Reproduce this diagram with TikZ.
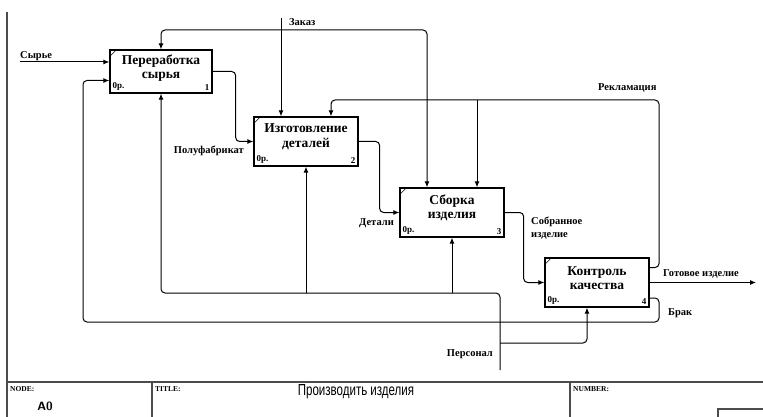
\documentclass[tikz,border=0pt]{standalone}
\usepackage{fontspec}
\setmainfont{Liberation Serif}
\newfontfamily\narrowsans[FakeStretch=0.72]{Liberation Sans}
\usetikzlibrary{arrows.meta,calc}
\begin{document}
\begin{tikzpicture}[x=1pt,y=-1pt,
  idefbox/.style={draw, line width=1.3pt, minimum width=104pt, minimum height=49pt, inner sep=0pt},
  boxtitle/.style={font=\fontsize{13.5}{14.5}\selectfont\bfseries, align=center, inner sep=0pt},
  boxcorner/.style={font=\fontsize{9}{10}\selectfont\bfseries, inner sep=0pt},
  arr/.style={draw, line width=1pt, rounded corners=4pt, -{Latex[length=6pt,width=5pt]}},
  conn/.style={draw, line width=1pt, rounded corners=4pt},
  lbl/.style={font=\fontsize{10.5}{11}\selectfont\bfseries, inner sep=0pt},
  frameline/.style={draw, line width=1.2pt, gray!60!black},
  tbsmall/.style={font=\fontsize{7.5}{8}\selectfont\bfseries, inner sep=0pt, anchor=north west}]
\useasboundingbox (0,0) rectangle (763,417);

% frame
\draw[frameline] (7,12) -- (7,417);
\draw[frameline] (7,382) -- (763,382);
\draw[frameline] (152,382) -- (152,417);
\draw[frameline] (570,382) -- (570,417);
\draw[frameline] (718,417) -- (718,409) -- (763,409);
\node[tbsmall] (tnode) at (10,386) {NODE:};
\node[tbsmall] (ttitle) at (155,386) {TITLE:};
\node[tbsmall] (tnum) at (573,386) {NUMBER:};
\node[font=\fontsize{12}{13}\selectfont\sffamily\bfseries, inner sep=0pt] (ta0) at (45,406) {A0};
\node[font=\narrowsans\fontsize{16}{17}\selectfont, inner sep=0pt] (ttext) at (356,392) {Производить изделия};

% boxes
\node[idefbox, minimum width=102pt, minimum height=43pt] (b1) at (161,71.5) {};
\node[idefbox] (b2) at (306,141.5) {};
\node[idefbox] (b3) at (452,212.5) {};
\node[idefbox] (b4) at (597,282.5) {};

\node[boxtitle] (t1) at ($(b1.center)+(0,-3.5)$) {Переработка\\сырья};
\node[boxtitle] (t2) at ($(b2.center)+(0,-4.5)$) {Изготовление\\деталей};
\node[boxtitle] (t3) at ($(b3.center)+(0,-4.5)$) {Сборка\\изделия};
\node[boxtitle] (t4) at ($(b4.center)+(0,-4.5)$) {Контроль\\качества};

\foreach \b/\n in {b1/1,b2/2,b3/3,b4/4}{
  \node[boxcorner, anchor=south west] (\b op) at ($(\b.south west)+(3,-3)$) {0р.};
  \node[boxcorner, anchor=south east] (\b num) at ($(\b.south east)+(-3,-3)$) {\n};
  \draw[line width=0.5pt] ($(\b.north west)+(1.5,6)$) -- ($(\b.north west)+(6,1.5)$);
}

% anchor points
\coordinate (c1a) at ($(b1.west)+(0,-9.5)$);
\coordinate (c1b) at ($(b1.west)+(0,9)$);
\coordinate (c2a) at ($(b2.north)+(-25,0)$);
\coordinate (c2b) at ($(b2.north)+(25,0)$);
\coordinate (c3a) at ($(b3.north)+(-25,0)$);
\coordinate (c3b) at ($(b3.north)+(25,0)$);
\coordinate (c4m) at ($(b4.south)+(-10,0)$);
\coordinate (f4) at ($(b4.east)+(0,-15)$);
\coordinate (br4) at ($(b4.east)+(0,15.5)$);

% Сырье
\coordinate (syr) at (20,62);
\draw[arr] (syr) -- (c1a);
\node[lbl, anchor=south west] (lsyr) at ($(syr)+(0,-1.5)$) {Сырье};

% Заказ (control)
\coordinate (zk) at (281,18);
\coordinate (zj) at (281,30);
\draw[arr] (zk) -- (c2a);
\draw[arr] (zj) -| (b1.north);
\draw[arr] (zj) -| (c3a);
\node[lbl, anchor=west] (lzk) at (289,22) {Заказ};

% outputs between boxes
\draw[arr] (b1.east) -- ++(23,0) |- (b2.west);
\draw[arr] (b2.east) -- ++(21,0) |- (b3.west);
\draw[arr] (b3.east) -- ++(19,0) |- (b4.west);
\node[lbl, anchor=east] (lpf) at (244,151) {Полуфабрикат};
\node[lbl, anchor=east] (ldet) at (394,223) {Детали};
\node[lbl, anchor=north west, align=left, font=\fontsize{10.5}{12.5}\selectfont\bfseries] (lsob) at (531,217) {Собранное\\изделие};

% Готовое изделие
\coordinate (gi) at (756,282.5);
\draw[arr] (b4.east) -- (gi);
\node[lbl, anchor=west] (lgi) at (663,274) {Готовое изделие};

% Рекламация feedback
\coordinate (fb) at (659,100);
\draw[arr] (f4) -| (fb) -| (c2b);
\draw[arr] (c3b |- fb) -- (c3b);
\node[lbl, anchor=west] (lrek) at (598,88) {Рекламация};

% Брак
\coordinate (bk1) at (659,322);
\coordinate (bk2) at (83,80.5);
\draw[arr] (br4) -| (bk1) -| (bk2) -- (c1b);
\node[lbl, anchor=west] (lbr) at (668,313) {Брак};

% Персонал (mechanism)
\coordinate (per) at (500,370);
\coordinate (m1) at (161,293);
\draw[arr] (per) |- (m1) -- (b1.south);
\draw[arr] (b2.south |- m1) -- (b2.south);
\draw[arr] (b3.south |- m1) -- (b3.south);
\coordinate (pj) at (500,343);
\draw[arr] (pj) -| (c4m);
\node[lbl, anchor=east] (lper) at (493,354) {Персонал};
\end{tikzpicture}
\end{document}
